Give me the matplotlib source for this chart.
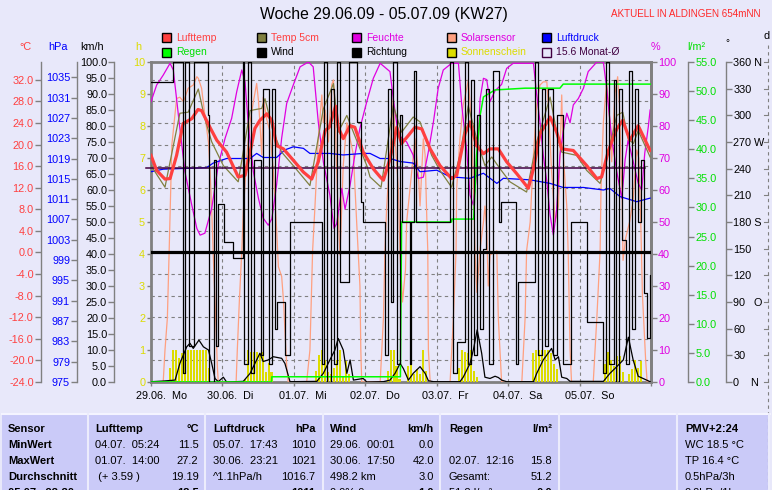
import matplotlib
matplotlib.use('Agg')
import matplotlib.pyplot as plt
from matplotlib.patches import Rectangle
from matplotlib.lines import Line2D
import numpy as np

plt.rcParams['font.family'] = ['Liberation Sans', 'DejaVu Sans']

# ---------------- data (hours since 29.06. 00:00) ----------------
day_labels = ['29.06.  Mo', '30.06.  Di', '01.07.  Mi', '02.07.  Do', '03.07.  Fr', '04.07.  Sa', '05.07.  So']

lufttemp = [(0, 18.0), (1.9, 15.2), (4.7, 13.6), (6.4, 13.7), (8.6, 18.0), (10.8, 23.9), (13.7, 24.8), (15.8, 26.5),
            (17.0, 26.3), (19.8, 23.2), (22.1, 20.8), (25.4, 18.6), (29.3, 14.0), (31.6, 14.3), (33.3, 18.6),
            (34.9, 23.0), (36.6, 24.5), (38.9, 25.7), (40.6, 24.5), (42.2, 19.8), (44.5, 19.2), (47.8, 17.1),
            (51.2, 14.9), (54.0, 13.6), (56.2, 16.8), (58.5, 22.6), (59.9, 23.2), (62.0, 27.1), (62.9, 23.2),
            (64.6, 21.1), (66.9, 23.5), (68.5, 23.2), (71.3, 18.6), (74.7, 15.5), (77.0, 14.0), (78.1, 13.4),
            (80.3, 17.4), (82.6, 23.2), (84.2, 20.2), (86.5, 21.7), (88.7, 23.2), (91.0, 22.9), (93.8, 19.2),
            (97.1, 16.1), (101.0, 13.7), (102.7, 14.3), (105.5, 22.0), (107.2, 24.2), (109.4, 19.8), (111.7, 18.3),
            (113.9, 19.2), (116.7, 19.2), (119.5, 16.8), (122.9, 14.6), (126.8, 11.9), (128.5, 15.5), (130.7, 22.0),
            (134.1, 25.1), (136.3, 22.3), (138.0, 19.2), (141.9, 18.9), (146.4, 16.1), (149.8, 13.7), (151.4, 14.0),
            (153.7, 18.9), (156.5, 22.9), (158.5, 24.5), (160.9, 20.8), (163.7, 23.5), (167.7, 18.9)]

temp5cm = [(0, 16.1), (4.7, 12.1), (9.7, 25.8), (12.5, 26.0), (15.9, 30.3), (18.0, 25.0), (20.4, 20.5), (24.3, 16.1),
           (29.3, 13.1), (33.3, 26.3), (37.2, 26.7), (38.3, 28.5), (41.1, 22.3), (43.9, 18.6), (47.8, 16.1),
           (53.4, 12.4), (57.9, 26.6), (61.3, 31.3), (62.9, 22.3), (65.8, 25.4), (68.0, 22.3), (72.5, 16.1),
           (73.6, 14.0), (77.3, 12.1), (81.4, 27.2), (84.2, 22.3), (88.1, 25.1), (90.4, 24.2), (94.3, 18.0),
           (97.1, 15.2), (101.0, 12.1), (103.8, 18.0), (106.6, 27.2), (109.4, 21.1), (112.2, 16.1), (114.5, 17.7),
           (117.3, 15.5), (120.6, 13.1), (126.2, 11.2), (129.6, 20.5), (134.1, 28.8), (136.3, 22.3), (138.0, 18.6),
           (143.0, 18.0), (146.4, 15.2), (150.9, 12.8), (153.7, 18.6), (156.5, 25.4), (158.5, 26.0), (160.4, 21.0),
           (162.1, 20.2), (163.7, 22.6), (167.7, 17.7)]

feuchte = [(0, 87.6), (1.9, 92.8), (4.1, 95.9), (6.4, 99.6), (7.5, 97.5), (9.7, 79.3), (11.4, 65.7), (13.7, 55.3),
           (15.4, 48.0), (16.5, 45.9), (18.1, 46.5), (20.4, 54.3), (22.6, 67.8), (24.9, 76.2), (27.1, 82.4),
           (28.8, 90.7), (30.5, 97.5), (31.6, 93.8), (32.7, 80.3), (34.4, 65.7), (36.1, 57.4), (37.7, 51.2),
           (39.4, 49.0), (40.6, 51.0), (42.2, 61.6), (43.9, 76.2), (45.6, 87.1), (47.8, 92.8), (50.1, 98.5),
           (52.9, 100.0), (54.5, 98.5), (56.2, 81.3), (57.9, 68.8), (60.1, 58.4), (61.5, 48.0), (62.4, 49.5),
           (64.1, 60.5), (65.2, 54.0), (66.9, 61.6), (68.5, 70.9), (70.2, 79.3), (72.5, 87.6), (74.7, 94.9),
           (77.0, 99.6), (80.3, 97.0), (81.4, 88.6), (83.1, 77.2), (85.9, 75.0), (88.1, 70.9), (89.8, 63.6),
           (91.5, 64.0), (93.2, 72.0), (94.9, 81.3), (96.5, 91.8), (98.2, 97.5), (101.0, 99.6), (103.3, 99.6),
           (104.4, 86.6), (106.1, 72.0), (107.2, 58.4), (108.3, 55.3), (109.4, 65.0), (110.6, 88.6), (111.7, 94.9),
           (112.8, 94.5), (113.9, 87.6), (115.6, 91.0), (117.8, 93.0), (119.5, 98.0), (121.7, 99.6), (128.5, 99.6),
           (129.6, 89.7), (130.7, 81.3), (131.8, 70.9), (133.0, 62.6), (134.1, 52.2), (135.2, 45.9), (136.3, 54.0),
           (137.4, 70.9), (138.5, 78.2), (139.7, 84.0), (140.8, 81.0), (141.9, 86.6), (143.6, 88.6), (145.3, 91.8),
           (146.9, 97.0), (149.8, 100.0), (152.0, 100.0), (153.1, 91.8), (154.8, 76.2), (156.5, 65.7),
           (158.2, 57.4), (159.3, 69.4), (160.3, 75.6), (162.0, 69.0), (163.7, 62.1), (164.9, 60.0), (165.9, 71.5),
           (167.1, 79.8), (167.7, 85.0)]

luftdruck = [(0, 1016.4), (4.1, 1016.9), (18.7, 1017.2), (20.9, 1018.1), (25.4, 1019.0), (33.3, 1019.0),
             (35.5, 1020.0), (37.7, 1019.2), (42.2, 1019.2), (45.0, 1020.7), (47.8, 1021.3), (51.2, 1021.0),
             (53.4, 1020.0), (60.1, 1020.0), (64.6, 1019.7), (71.3, 1020.0), (73.6, 1020.0), (77.0, 1019.0),
             (80.3, 1019.0), (83.7, 1018.4), (88.1, 1018.1), (90.4, 1016.4), (96.0, 1016.7), (100.5, 1015.4),
             (107.2, 1015.1), (111.7, 1016.1), (116.2, 1014.1), (118.4, 1015.1), (127.4, 1014.8), (134.1, 1014.1),
             (138.5, 1013.3), (145.3, 1013.3), (152.0, 1012.8), (154.2, 1013.1), (157.6, 1011.5), (163.2, 1010.5),
             (167.7, 1011.2)]

regen = [(0, 0.0), (40.5, 0.0), (40.6, 0.9), (83.8, 0.9), (84.2, 27.5), (101.0, 27.5), (101.1, 28.0), (108.4, 28.0),
         (108.9, 33.3), (109.4, 39.0), (110.6, 45.9), (111.7, 49.0), (115.6, 50.2), (125.7, 50.5), (137.4, 50.5),
         (138.5, 51.2), (168, 51.2)]

sonnenschein = [(6, 0.45), (7, 1.0), (8, 1.0), (9, 0.75), (10, 0.9), (11, 0.95), (12, 1.0), (13, 1.0), (14, 1.0),
                (15, 1.0), (16, 1.0), (17, 1.0), (18, 1.0), (19, 0.45),
                (31, 0.1), (32, 1.0), (33, 0.95), (34, 0.95), (35, 0.95), (36, 0.9), (37, 0.95), (38, 0.3),
                (39, 0.6), (40, 0.3),
                (55, 0.35), (56, 0.85), (57, 1.0), (58, 0.7), (59, 0.3), (60, 0.25), (61, 0.45), (62, 0.7),
                (63, 1.0), (64, 0.2), (65, 0.65), (66, 0.25),
                (79, 0.33), (80, 1.0), (81, 1.0), (82, 0.5), (83, 0.1), (86, 0.5), (87, 0.9), (88, 0.25),
                (89, 0.4), (90, 0.25), (91, 1.0), (92, 0.35),
                (103, 0.45), (104, 1.0), (105, 0.95), (106, 0.9), (107, 1.0), (108, 0.35), (109, 0.15),
                (128, 0.9), (129, 1.0), (130, 1.0), (131, 1.0), (132, 1.0), (133, 1.0), (134, 0.9), (135, 0.55),
                (136, 0.4),
                (152, 0.55), (153, 0.95), (154, 0.7), (155, 0.5), (156, 0.8), (157, 0.8), (158, 0.3), (160, 0.25),
                (161, 0.4), (162, 0.7), (163, 0.45), (164, 0.65)]

solar = [(0, 0), (4.1, 0), (4.7, 10), (5.5, 20), (6.1, 41), (7.0, 74), (8.6, 88.6), (9.7, 89), (10.9, 87.6),
         (12.5, 91.8), (14.2, 92.8), (15.4, 95.4), (15.9, 94.9), (17.0, 91.8), (18.1, 83.4), (19.3, 75), (19.8, 67),
         (20.4, 54), (20.9, 40), (21.5, 25.6), (22.3, 4.8), (22.6, 0),
         (28.6, 0), (29.0, 10), (29.7, 25.6), (30.5, 41), (31.0, 53), (32.2, 71), (33.3, 81.3), (34.4, 87.6),
         (35.5, 93.3), (36.1, 88), (36.6, 81), (37.2, 71), (37.7, 89), (38.9, 82), (40.0, 78.2), (41.1, 66),
         (42.2, 48), (42.8, 36), (43.9, 33), (44.5, 25.6), (45.6, 4.8), (46.1, 0),
         (52.3, 0), (53.4, 10), (54.3, 41), (55.1, 55), (56.2, 76), (57.4, 89.7), (57.9, 81), (58.5, 85),
         (59.6, 75), (60.7, 92.8), (61.3, 94.4), (61.8, 86), (62.4, 65.7), (62.9, 52), (63.5, 39.7), (64.6, 67.8),
         (65.8, 81), (66.9, 76), (68.0, 71), (69.1, 50), (70.2, 30), (70.5, 10), (70.8, 0),
         (77.0, 0), (78.1, 20), (78.6, 41), (79.2, 55), (80.3, 71), (81.4, 88.6), (82.0, 76), (83.1, 60.5),
         (83.7, 39.7), (84.5, 25), (85.5, 35), (85.9, 50), (87.6, 65.7), (88.7, 76), (89.8, 65.7), (90.4, 55),
         (91.5, 76), (92.1, 71), (92.7, 50), (93.0, 41), (93.2, 10), (93.8, 0),
         (100.5, 0), (101.6, 20), (102.5, 41), (102.7, 60.5), (103.8, 76), (104.9, 86.6), (106.1, 91.8),
         (106.6, 94.4), (107.2, 87), (107.8, 78.2), (108.3, 62.6), (108.9, 39.7), (109.5, 28), (110.6, 41.8),
         (111.7, 50), (112.2, 55), (112.8, 48), (113.3, 30), (113.9, 39.7), (116.2, 41), (116.7, 20), (117.8, 0),
         (124.6, 0), (125.7, 20), (126.2, 41), (127.4, 50), (128.5, 71), (129.6, 86.6), (130.7, 92.8),
         (131.8, 93.8), (133.0, 93.8), (133.5, 86.6), (134.6, 65.7), (135.8, 50), (136.9, 55), (138.0, 89.7),
         (138.5, 71), (139.7, 55), (140.2, 39.7), (140.8, 10), (141.3, 0),
         (148.6, 0), (149.8, 20), (150.9, 41), (151.2, 60.5), (152.0, 81.3), (153.1, 93.8), (154.2, 81.3),
         (154.8, 68.8), (155.3, 80), (155.9, 90.2), (156.8, 95.4), (157.4, 86.6), (158.0, 65), (158.3, 59),
         (158.6, 38), (159.5, 45), (160.8, 50), (162.0, 56.9), (163.2, 72.5), (163.9, 70), (164.6, 48.5),
         (165.1, 27.7), (166.2, 6.9), (166.7, 0), (168, 0)]

wind = [(0, 0.1), (4.1, 0.3), (8.1, 0.6), (9.7, 5.8), (12.0, 11.0), (13.1, 12.1), (14.2, 10.5), (16.1, 13.1),
        (17.6, 11.0), (19.3, 10.0), (20.4, 5.8), (21.5, 1.1), (22.6, 0.1), (24.3, 1.5), (25.4, 0.0), (31.0, 0.2),
        (33.3, 2.7), (35.5, 6.9), (36.6, 9.0), (37.7, 6.4), (39.4, 6.9), (41.1, 7.9), (43.9, 7.4), (45.0, 5.8),
        (46.7, 0.1), (55.7, 0.2), (57.9, 2.7), (60.1, 6.9), (61.8, 10.0), (62.9, 13.6), (64.6, 10.0), (65.8, 2.7),
        (66.9, 6.9), (68.0, 0.6), (71.3, 1.1), (72.5, 0.0), (78.1, 0.1), (80.3, 0.6), (82.0, 2.7), (83.7, 5.8),
        (84.8, 4.2), (86.5, 0.6), (88.1, 2.7), (90.4, 4.8), (92.1, 2.7), (93.2, 0.4), (94.9, 0.1), (103.8, 0.1),
        (104.9, 1.5), (107.2, 5.8), (108.3, 10.0), (109.6, 16.3), (111.1, 9.0), (112.2, 1.5), (113.9, 1.1),
        (115.6, 1.8), (116.7, 1.4), (117.8, 0.6), (119.5, 0.1), (128.5, 0.1), (129.6, 2.7), (131.8, 6.9),
        (134.6, 10.5), (135.8, 6.9), (136.9, 7.9), (138.0, 1.5), (139.7, 1.1), (140.8, 0.2), (152.0, 0.2),
        (154.2, 2.7), (156.5, 4.8), (158.7, 6.9), (160.4, 14.0), (162.0, 6.9), (163.7, 1.8), (167.7, 0.1)]

richtung = [(0, 338), (7.5, 360), (10.9, 10), (11.5, 360), (12.8, 40), (14.6, 360), (19.3, 300), (19.6, 0),
            (21.2, 250), (22.0, 40), (22.5, 200), (24.6, 158), (27.5, 140), (31.0, 360), (31.3, 20), (32.5, 360),
            (33.5, 10), (34.5, 250), (37.0, 30), (37.5, 330), (39.5, 20), (40.8, 330), (41.5, 60), (42.3, 90),
            (45.0, 30), (46.7, 180), (57.3, 20), (58.0, 360), (59.0, 0), (60.5, 330), (61.5, 20), (62.5, 360),
            (63.5, 113), (66.5, 360), (69.3, 293), (70.5, 203), (71.3, 180), (78.5, 30), (79.5, 330), (80.5, 90),
            (81.3, 360), (82.5, 20), (83.5, 300), (84.2, 180), (87.0, 20), (87.5, 180), (88.5, 350), (89.2, 180),
            (100.5, 360), (101.5, 10), (102.7, 45), (105.5, 360), (106.5, 20), (107.5, 340), (108.5, 30),
            (109.5, 300), (110.5, 60), (111.5, 150), (112.5, 330), (113.5, 20), (115.0, 350), (117.0, 180),
            (117.7, 203), (122.8, 20), (123.3, 113), (129.0, 360), (130.0, 30), (131.5, 330), (132.5, 40),
            (133.5, 330), (135.0, 30), (136.5, 300), (138.5, 20), (141.0, 180), (146.5, 68), (152.0, 10),
            (152.8, 360), (154.0, 20), (155.5, 340), (156.3, 0), (157.3, 330), (158.3, 160), (159.5, 20),
            (160.5, 350), (161.5, 60), (162.5, 330), (163.5, 180), (164.5, 250), (165.5, 100), (166.5, 50),
            (167.5, 120), (168, 120)]

richtung_mittel = 146.0
monat_mittel = 15.6

# ---------------- styling ----------------
W, H = 772, 490
BG = '#e8e8fa'
GRAY = '#808080'
RED = '#ff4040'
OLIVE = '#808040'
MAG = '#e000e0'
SAL = '#ffa080'
BLUE = '#0000ff'
GREEN = '#00e000'
YEL = '#dcdc00'
PURP = '#400040'
FS = 7.8


def fx(x):
    return x / W


def fy(y):
    return 1 - y / H


def unzip(lst):
    a = np.array(lst, dtype=float)
    return a[:, 0], a[:, 1]


fig = plt.figure(figsize=(W / 100, H / 100), dpi=100)
fig.patch.set_facecolor(BG)

L, R, T, B = 151, 651, 62, 382
ax_c = fig.add_axes([fx(L), fy(B), (R - L) / W, (B - T) / H])
ax_c.set_facecolor(BG)
ax_c.set_xlim(0, 168)
ax_c.set_ylim(-24, 35.3)
ax_c.set_yticks(np.arange(-24, 33, 4))
ax_c.set_yticklabels([f'{v:.1f}' for v in np.arange(-24, 33, 4)])
ax_c.set_xticks(np.arange(0, 169, 24))
ax_c.set_xticklabels([])
ax_c.grid(True, color=GRAY, lw=0.8, linestyle=(0, (3, 3)))
for s in ['top', 'bottom', 'right']:
    ax_c.spines[s].set_color(GRAY)
    ax_c.spines[s].set_linewidth(2)
ax_c.spines['left'].set_position(('axes', (40.7 - L) / (R - L)))
ax_c.spines['left'].set_color(GRAY)
ax_c.spines['left'].set_linewidth(1)
ax_c.tick_params(axis='y', colors=GRAY, labelcolor=RED, length=4, width=1, pad=1, labelsize=FS)
ax_c.tick_params(axis='x', colors=GRAY, length=3, width=1)

for i, lbl in enumerate(day_labels):
    ax_c.annotate(lbl, xy=(24 * i, 0), xycoords=('data', 'axes fraction'), xytext=(-10.8, -10),
                  textcoords='offset points', ha='left', va='center', fontsize=FS, color='black',
                  annotation_clip=False)


def twin(side, pos, ylim, ticks, labels, color, lw=1, length=4):
    a = ax_c.twinx()
    for s in a.spines.values():
        s.set_visible(False)
    a.set_ylim(*ylim)
    a.set_xlim(0, 168)
    if side is None:
        a.set_yticks([])
        return a
    sp = a.spines[side]
    sp.set_visible(True)
    sp.set_position(('axes', pos))
    sp.set_color(GRAY)
    sp.set_linewidth(lw)
    a.yaxis.set_ticks_position(side)
    a.yaxis.set_label_position(side)
    a.set_yticks(ticks)
    a.set_yticklabels(labels)
    a.tick_params(axis='y', colors=GRAY, labelcolor=color, length=length, width=1, pad=1.2, labelsize=FS)
    return a


def frac(x):
    return (x - L) / (R - L)


# sunshine hours axis (plot left border)
ax_h = twin('left', 0.0, (0, 10), range(0, 11), [str(v) for v in range(0, 11)], YEL, lw=2, length=3)
sx, sv = unzip(sonnenschein)
ax_h.bar(sx + 0.15, sv, width=0.7, align='edge', color=YEL, lw=0)

# percent axis (plot right border): solar sensor + humidity
ax_p = twin('right', 1.0, (0, 100), range(0, 101, 10), [str(v) for v in range(0, 101, 10)], MAG, lw=2, length=4)
x, v = unzip(solar)
ax_p.plot(x, v, color=SAL, lw=0.9)
x, v = unzip(feuchte)
ax_p.plot(x, v, color=MAG, lw=0.9)

# km/h axis: wind
kmh = np.arange(0, 100.1, 5)
ax_w = twin('left', frac(114.3), (0, 100), kmh, [f'{v:.1f}' for v in kmh], 'black')
x, v = unzip(wind)
ax_w.plot(x, v, color='black', lw=0.9)

# hPa axis: pressure
hpa = np.arange(975, 1036, 4)
ax_hp = twin('left', frac(77.3), (975, 1038), hpa, [str(v) for v in hpa], BLUE)
x, v = unzip(luftdruck)
ax_hp.plot(x, v, color=BLUE, lw=0.9)

# rain axis
rr = np.arange(0, 55.1, 5)
ax_r = twin('right', frac(688.3), (0, 55), rr, [f'{v:.1f}' for v in rr], GREEN)
x, v = unzip(regen)
ax_r.plot(x, v, color='#00ff00', lw=1.1)

# temperature lines
ax_t = twin(None, 0, (-24, 35.3), [], [], RED)
x, v = unzip(temp5cm)
ax_t.plot(x, v, color=OLIVE, lw=0.9)
ax_t.axhline(monat_mittel, xmin=-0.01, xmax=0.988, color=PURP, lw=1.1, clip_on=False)
x, v = unzip(lufttemp)
ax_t.plot(x, v, color=RED, lw=2.3)

# direction axis
deg = np.arange(0, 361, 30)
deg_lbl = {360: '360 N', 270: '270 W', 180: '180 S', 90: '90   O', 0: '0    N'}
ax_d = twin('right', frac(726), (0, 360), deg, [deg_lbl.get(int(d), str(int(d))) for d in deg], 'black')
x, v = unzip(richtung)
ax_d.plot(x, v, color='black', lw=0.9, drawstyle='steps-post')
ax_d.axhline(richtung_mittel, color='black', lw=2.3)

# ---------------- texts ----------------
fig.text(fx(384), fy(14.5), 'Woche 29.06.09 - 05.07.09 (KW27)', ha='center', va='center', fontsize=11.3)
fig.text(fx(611), fy(14), 'AKTUELL IN ALDINGEN 654mNN', ha='left', va='center', fontsize=7.1, color='#ff2828')

units = [('°C', 25, RED), ('hPa', 58, BLUE), ('km/h', 92, 'black'), ('h', 138, YEL),
         ('%', 655, MAG), ('l/m²', 696, GREEN)]
for t, xx, c in units:
    fig.text(fx(xx), fy(47), t, ha='center', va='center', fontsize=FS, color=c)
fig.text(fx(727), fy(43), '°', ha='center', va='center', fontsize=7, color='black')
fig.text(fx(767), fy(36), 'd', ha='center', va='center', fontsize=FS, color='black')

legend = [
    ('Lufttemp', RED, RED, 161.7, 33.5), ('Temp 5cm', OLIVE, RED, 256.7, 33.5), ('Feuchte', MAG, MAG, 351.7, 33.5),
    ('Solarsensor', SAL, MAG, 446.7, 33.5), ('Luftdruck', BLUE, BLUE, 541.7, 33.5),
    ('Regen', '#00ff00', GREEN, 161.7, 47.7), ('Wind', 'black', 'black', 256.7, 47.7),
    ('Richtung', 'black', 'black', 351.7, 47.7), ('Sonnenschein', YEL, YEL, 446.7, 47.7),
    ('15.6 Monat-Ø', 'none', PURP, 541.7, 47.7)]
for name, fc, tc, x0, y0 in legend:
    ec = PURP if fc == 'none' else 'black'
    fig.add_artist(Rectangle((fx(x0), fy(y0 + 9)), 9 / W, 9 / H, transform=fig.transFigure,
                             facecolor=fc, edgecolor=ec, lw=1))
    fig.text(fx(x0 + 14), fy(y0 + 4.7), name, ha='left', va='center', fontsize=7.5, color=tc)

# right edge dashed scale
fig.add_artist(Line2D([fx(768), fx(768)], [fy(45), fy(490)], transform=fig.transFigure, color=GRAY,
                      lw=0.8, linestyle=(0, (3, 3))))
for k in range(13):
    yy = 62 + k * 320 / 12
    fig.add_artist(Line2D([fx(764), fx(768)], [fy(yy), fy(yy)], transform=fig.transFigure, color=GRAY, lw=0.8))

# ---------------- table ----------------
fig.add_artist(Rectangle((fx(2), 0), (768 - 2) / W, (490 - 414) / H, transform=fig.transFigure,
                         facecolor='#cacaf8', edgecolor='none'))
fig.add_artist(Line2D([fx(2), fx(770)], [fy(414), fy(414)], transform=fig.transFigure, color='#f4f4ff', lw=1.5))
for xs in [88, 205, 323, 440, 559, 677, 769]:
    fig.add_artist(Line2D([fx(xs), fx(xs)], [fy(414), 0], transform=fig.transFigure, color='#ececfc', lw=1.5))

rows_y = [429, 444.5, 460.5, 476.5, 493]
col_left = [8, 95, 213, 330, 449, 685]
col_right = [None, 198.5, 315.5, 434, 552, None]
table = [
    [('Sensor', None, True), ('Lufttemp', '°C', True), ('Luftdruck', 'hPa', True), ('Wind', 'km/h', True),
     ('Regen', 'l/m²', True), ('PMV+2:24', None, True)],
    [('MinWert', None, True), ('04.07.  05:24', '11.5', False), ('05.07.  17:43', '1010', False),
     ('29.06.  00:01', '0.0', False), ('', '', False), ('WC 18.5 °C', None, False)],
    [('MaxWert', None, True), ('01.07.  14:00', '27.2', False), ('30.06.  23:21', '1021', False),
     ('30.06.  17:50', '42.0', False), ('02.07.  12:16', '15.8', False), ('TP 16.4 °C', None, False)],
    [('Durchschnitt', None, True), (' (+ 3.59 )', '19.19', False), ('^1.1hPa/h', '1016.7', False),
     ('498.2 km', '3.0', False), ('Gesamt:', '51.2', False), ('0.5hPa/3h', None, False)],
    [('05.07.  23:30', None, True), ('', '18.5', True), ('', '1011', True), ('0.0% 0', '1.0', True),
     ('51.2 l/m²', '0.0', True), ('0.0hPa/1h', None, False)],
]
for r, row in enumerate(table):
    yy = fy(rows_y[r])
    for c, (lt, rt, bold) in enumerate(row):
        wl = 'bold' if (bold and (r == 0 or c == 0)) else 'normal'
        if lt:
            fig.text(fx(col_left[c]), yy, lt, ha='left', va='center', fontsize=8, fontweight=wl)
        if rt:
            wr = 'bold' if bold else 'normal'
            fig.text(fx(col_right[c]), yy, rt, ha='right', va='center', fontsize=8, fontweight=wr)

fig.savefig('out.png', dpi=100, facecolor=BG)
